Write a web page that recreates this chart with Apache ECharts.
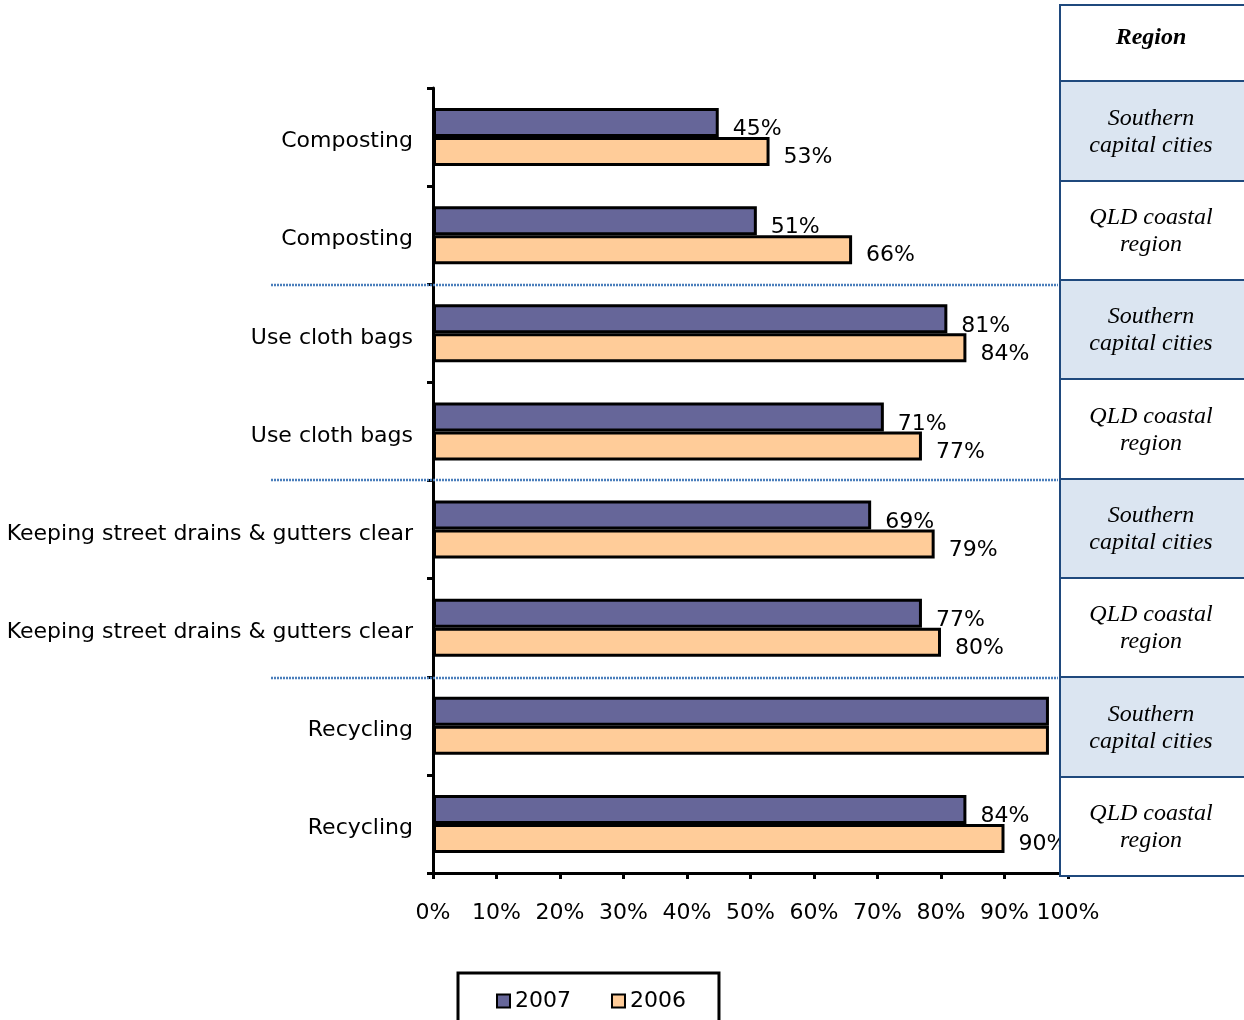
<!DOCTYPE html>
<html>
<head>
<meta charset="utf-8">
<script src="https://cdn.jsdelivr.net/npm/echarts@6/dist/echarts.min.js"></script>
<style>
  html, body { margin: 0; padding: 0; background: #fff; }
  #chart { width: 1244px; height: 1020px; }
</style>
</head>
<body>
<div id="chart"></div>
<script>
// Environmental actions by region, share of respondents
const activities = [
  'Composting', 'Composting',
  'Use cloth bags', 'Use cloth bags',
  'Keeping street drains & gutters clear', 'Keeping street drains & gutters clear',
  'Recycling', 'Recycling'
];
const regions = [
  'Southern\ncapital cities', 'QLD coastal\nregion',
  'Southern\ncapital cities', 'QLD coastal\nregion',
  'Southern\ncapital cities', 'QLD coastal\nregion',
  'Southern\ncapital cities', 'QLD coastal\nregion'
];
const values2007 = [45, 51, 81, 71, 69, 77, 97, 84];
const values2006 = [53, 66, 84, 77, 79, 80, 97, 90];
const xTicks = [0, 10, 20, 30, 40, 50, 60, 70, 80, 90, 100];

const FONT = 'DejaVu Sans';
const SERIF = 'Liberation Serif';

const chart = echarts.init(document.getElementById('chart'), null, { renderer: 'canvas' });

// Region table to the right of the plot
const tableLeft = 1060, tableRight = 1250, headerTop = 5;
const rowEdges = [81, 181, 280, 379, 479, 578, 677, 777, 876];
const tableGraphics = [];
tableGraphics.push({
  type: 'rect', z: 100,
  shape: { x: tableLeft, y: headerTop, width: tableRight - tableLeft, height: rowEdges[0] - headerTop },
  style: { fill: '#fff', stroke: '#1F497D', lineWidth: 2 }
});
tableGraphics.push({
  type: 'text', z: 101,
  style: { text: 'Region', x: 1151, y: 38, align: 'center', verticalAlign: 'middle',
    font: 'italic bold 24px "' + SERIF + '"', fill: '#000' }
});
regions.forEach((r, i) => {
  const y0 = rowEdges[i], y1 = rowEdges[i + 1];
  tableGraphics.push({
    type: 'rect', z: 100,
    shape: { x: tableLeft, y: y0, width: tableRight - tableLeft, height: y1 - y0 },
    style: { fill: i % 2 === 0 ? '#DBE5F1' : '#fff', stroke: '#1F497D', lineWidth: 2 }
  });
  tableGraphics.push({
    type: 'text', z: 101,
    style: { text: r, x: 1151, y: (y0 + y1) / 2 + 1, align: 'center', verticalAlign: 'middle',
      font: 'italic 24px "' + SERIF + '"', lineHeight: 27, fill: '#000' }
  });
});

// Dotted separators between activity groups
const sepGraphics = [285, 480, 678].map(y => ({
  type: 'line', z: 50,
  shape: { x1: 271, y1: y, x2: 1058, y2: y },
  style: { stroke: '#4A7EBB', lineWidth: 2.5, lineDash: [2, 1] }
}));

const labelStyle = {
  show: true, position: 'right', distance: 14,
  formatter: p => p.value + '%',
  fontFamily: FONT, fontSize: 22, color: '#000'
};

chart.setOption({
  animation: false,
  grid: { left: 433, right: 176, top: 88, bottom: 147, containLabel: false },
  xAxis: {
    type: 'value', min: 0, max: 100, interval: 10,
    axisLine: { show: true, lineStyle: { color: '#000', width: 3 } },
    axisTick: { show: true, length: 6, lineStyle: { color: '#000', width: 3 } },
    axisLabel: { formatter: v => xTicks.includes(v) ? v + '%' : '', fontFamily: FONT, fontSize: 22, color: '#000', margin: 29 },
    splitLine: { show: false }
  },
  yAxis: {
    type: 'category', inverse: true, data: activities,
    axisLine: { show: true, lineStyle: { color: '#000', width: 3 } },
    axisTick: { show: true, length: 6, lineStyle: { color: '#000', width: 3 } },
    axisLabel: { fontFamily: FONT, fontSize: 22, color: '#000', margin: 20, verticalAlign: 'top', lineHeight: 9 }
  },
  legend: {
    left: 458, top: 973,
    padding: [17, 33, 30, 38],
    itemGap: 40, itemWidth: 13, itemHeight: 13, icon: 'rect',
    borderColor: '#000', borderWidth: 3,
    textStyle: { fontFamily: FONT, fontSize: 22, color: '#000' },
    data: ['2007', '2006']
  },
  series: [
    {
      name: '2007', type: 'bar', data: values2007,
      barWidth: 29, barGap: '0%',
      itemStyle: { color: '#666699', borderColor: '#000', borderWidth: 3 },
      label: Object.assign({}, labelStyle, { offset: [0, 7] })
    },
    {
      name: '2006', type: 'bar', data: values2006,
      barWidth: 29,
      itemStyle: { color: '#FFCC99', borderColor: '#000', borderWidth: 3 },
      label: Object.assign({}, labelStyle, { offset: [0, 6] })
    }
  ],
  graphic: sepGraphics.concat(tableGraphics)
});
</script>
</body>
</html>
